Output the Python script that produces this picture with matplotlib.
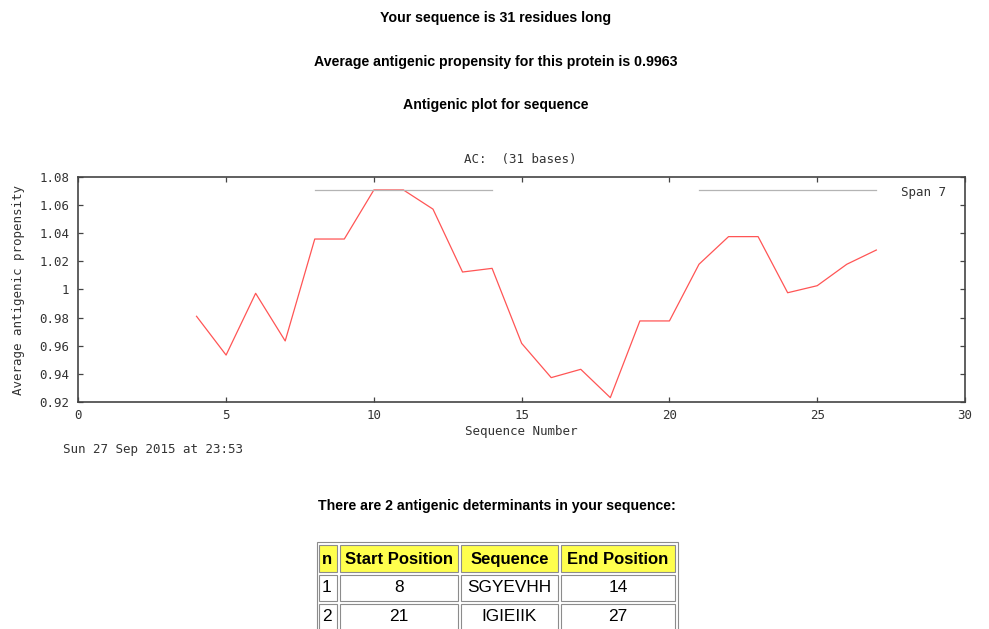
import matplotlib
matplotlib.use("Agg")
import matplotlib.pyplot as plt
from matplotlib.patches import Rectangle

# Smoothed antigenic propensity (window of 7 residues), positions 4..27
positions = [4, 5, 6, 7, 8, 9, 10, 11, 12, 13, 14, 15, 16, 17, 18, 19, 20,
             21, 22, 23, 24, 25, 26, 27]
propensity = [0.981, 0.9535, 0.9973, 0.9635, 1.0358, 1.0358, 1.0706, 1.0706,
              1.057, 1.0124, 1.015, 0.9618, 0.9375, 0.9434, 0.9233, 0.9777,
              0.9777, 1.0179, 1.0375, 1.0375, 0.9977, 1.0027, 1.0179, 1.028]

# Antigenic determinants
det_n = [1, 2]
det_start = [8, 21]
det_seq = ["SGYEVHH", "IGIEIIK"]
det_end = [14, 27]
region_level = 1.0706

table_header = ["n", "Start Position", "Sequence", "End Position"]

x_ticks = [0, 5, 10, 15, 20, 25, 30]
y_ticks = [0.92, 0.94, 0.96, 0.98, 1.00, 1.02, 1.04, 1.06, 1.08]
y_tick_labels = ["0.92", "0.94", "0.96", "0.98", "1", "1.02", "1.04", "1.06", "1.08"]

seq_length = 31
avg_propensity = 0.9963
plot_date = "Sun 27 Sep 2015 at 23:53"

W, H = 989, 629
fig = plt.figure(figsize=(W / 100, H / 100), dpi=100)
fig.patch.set_facecolor("white")


def fx(x):
    return x / W


def fy(y):
    return 1 - y / H


mono = "DejaVu Sans Mono"
sans = "Liberation Sans"
mono_size = 9
ink = "#333333"

# Page headings
fig.text(fx(496), fy(18), f"Your sequence is {seq_length} residues long",
         ha="center", va="center", family=sans, weight="bold", fontsize=10.2)
fig.text(fx(496), fy(62),
         f"Average antigenic propensity for this protein is {avg_propensity:.4f}",
         ha="center", va="center", family=sans, weight="bold", fontsize=10.2)
fig.text(fx(496), fy(105), "Antigenic plot for sequence",
         ha="center", va="center", family=sans, weight="bold", fontsize=10.2)

# Plot
left, right, top, bottom = 78.3, 965, 176.7, 402.3
ax = fig.add_axes([fx(left), fy(bottom), fx(right - left), (bottom - top) / H])
ax.plot(positions, propensity, color="#ff5555", lw=0.9)
for s, e in zip(det_start, det_end):
    ax.plot([s, e], [region_level, region_level], color="#b4b4b4", lw=0.9)
ax.text(27.85, 1.0685, "Span 7", family=mono, fontsize=mono_size, color=ink,
        ha="left", va="center")

ax.set_xlim(0, 30)
ax.set_ylim(0.92, 1.08)
ax.set_xticks(x_ticks)
ax.set_xticklabels([str(t) for t in x_ticks])
ax.set_yticks(y_ticks)
ax.set_yticklabels(y_tick_labels)
ax.tick_params(direction="in", length=3.5, width=0.9, color="#444444",
               top=True, right=True, labelsize=mono_size, labelcolor=ink)
ax.tick_params(axis="y", pad=6.5)
ax.tick_params(axis="x", pad=5)
for lab in ax.get_xticklabels() + ax.get_yticklabels():
    lab.set_family(mono)
for sp in ax.spines.values():
    sp.set_linewidth(1.2)
    sp.set_color("#444444")

fig.text(fx(520), fy(159), "AC:  (31 bases)", ha="center", va="center",
         family=mono, fontsize=mono_size, color=ink)
fig.text(fx(521), fy(432), "Sequence Number", ha="center", va="center",
         family=mono, fontsize=mono_size, color=ink)
fig.text(fx(19), fy(290), "Average antigenic propensity", ha="center",
         va="center", rotation=90, family=mono, fontsize=mono_size, color=ink)
fig.text(fx(63), fy(449), plot_date, ha="left", va="center",
         family=mono, fontsize=mono_size, color=ink)

# Determinant table
fig.text(fx(497), fy(506),
         f"There are {len(det_n)} antigenic determinants in your sequence:",
         ha="center", va="center", family=sans, weight="bold", fontsize=10.2)

col_edges = [(319, 337), (340, 458), (461, 558), (561, 675)]
row_edges = [(545, 572), (574.5, 600.5), (603.5, 640)]
row_baseline = [564, 592, 621]
border = "#8c8c8c"


def cell(x0, x1, y0, y1, face):
    fig.patches.append(Rectangle((fx(x0), fy(y1)), fx(x1 - x0), (y1 - y0) / H,
                                 transform=fig.transFigure, facecolor=face,
                                 edgecolor=border, lw=0.8))


# outer frame
cell(316.5, 677.5, 542.3, 660, "white")

rows = [table_header] + [[str(n), str(s), q, str(e)]
                         for n, s, q, e in zip(det_n, det_start, det_seq, det_end)]
for r, row in enumerate(rows):
    y0, y1 = row_edges[r]
    for c, txt in enumerate(row):
        x0, x1 = col_edges[c]
        cell(x0, x1, y0, y1, "#ffff4d" if r == 0 else "white")
        xc = (x0 + x1) / 2 if (c > 0) else x0 + 3
        fig.text(fx(xc), fy(row_baseline[r]), txt,
                 ha="center" if c > 0 else "left", va="baseline", family=sans,
                 weight="bold" if r == 0 else "normal",
                 fontsize=12.0 if r == 0 else 12.4, color="black")

fig.savefig("out.png", dpi=100)
